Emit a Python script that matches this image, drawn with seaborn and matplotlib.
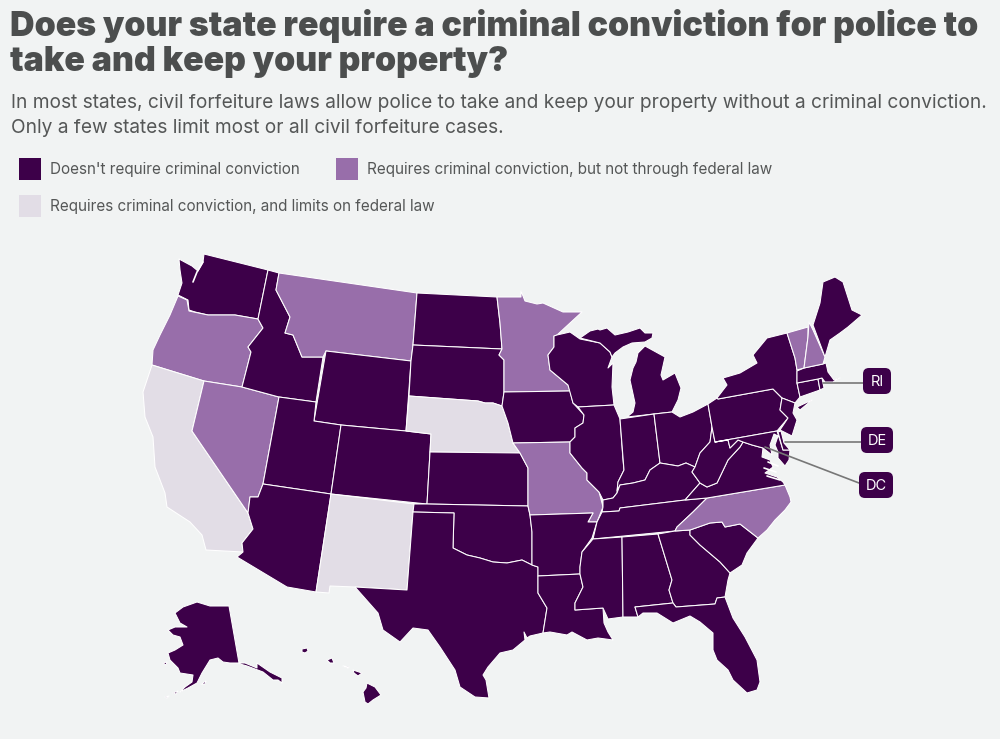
import matplotlib
matplotlib.use("Agg")
import matplotlib.pyplot as plt
from matplotlib.patches import FancyBboxPatch, Rectangle
import seaborn as sns

# Values
STATES = ["WA", "OR", "CA", "NV", "ID", "MT", "WY", "UT", "AZ", "CO", "NM", "ND", "SD", "NE", "KS",
          "OK", "TX", "MN", "IA", "MO", "AR", "LA", "WI", "IL", "MI", "MI2", "IN", "OH", "KY", "TN",
          "MS", "AL", "GA", "FL", "SC", "NC", "VA", "WV", "PA", "NY", "LI", "MD", "DE", "NJ", "CT",
          "RI", "MA", "VT", "NH", "ME", "AK", "AK2", "AK3", "AK4", "AK5", "AK6", "HI", "HI2", "HI3", "HI4", "HI5"]
CATEGORY = [0, 1, 2, 1, 0, 1, 0, 0, 0, 0, 2, 0, 0, 2, 0,
            0, 0, 1, 0, 1, 0, 0, 0, 0, 0, 0, 0, 0, 0, 0,
            0, 0, 0, 0, 0, 1, 0, 0, 0, 0, 0, 0, 0, 0, 0,
            0, 0, 1, 1, 0, 0, 0, 0, 0, 0, 0, 0, 0, 0, 0, 0]
LEGEND_LABELS = ["Doesn't require criminal conviction",
                 "Requires criminal conviction, but not through federal law",
                 "Requires criminal conviction, and limits on federal law"]
CALLOUTS = ["RI", "DE", "DC"]
TITLE = ["Does your state require a criminal conviction for police to", "take and keep your property?"]
SUBTITLE = ["In most states, civil forfeiture laws allow police to take and keep your property without a criminal conviction.",
            "Only a few states limit most or all civil forfeiture cases."]

# State outlines, traced in picture pixels
SHAPES = {
    "WA": [(179, 259), (192, 266), (198, 271), (203, 262), (204, 254), (268, 270), (258, 319), (235, 315), (222, 315), (208, 315), (195, 312), (189, 310), (188, 300), (178, 295), (182, 283), (180, 270)],
    "OR": [(178, 296), (187, 300), (189, 311), (208, 315), (235, 315), (258, 319), (263, 328), (248, 347), (251, 352), (242, 387), (204, 381), (152, 365), (153, 350), (160, 335), (170, 315)],
    "CA": [(152, 365), (204, 381), (192, 431), (248, 513), (253, 529), (242, 543), (243, 552), (206, 550), (202, 535), (190, 522), (167, 507), (165, 493), (155, 467), (153, 437), (145, 417), (143, 392)],
    "NV": [(204, 381), (242, 387), (279, 397), (263, 484), (258, 497), (250, 497), (248, 513), (192, 431)],
    "ID": [(268, 270), (279, 273), (276, 290), (290, 317), (285, 333), (293, 335), (302, 357), (323, 357), (316, 402), (279, 397), (242, 387), (251, 352), (248, 347), (263, 328), (258, 319)],
    "MT": [(279, 273), (417, 293), (413, 345), (411, 361), (326, 351), (323, 357), (302, 357), (293, 335), (285, 333), (290, 317), (276, 290)],
    "WY": [(326, 351), (411, 361), (406, 431), (341, 425), (314, 421)],
    "UT": [(279, 397), (316, 402), (314, 421), (341, 425), (331, 494), (263, 484)],
    "AZ": [(263, 484), (331, 494), (316, 592), (287, 587), (237, 557), (243, 552), (242, 543), (253, 529), (248, 513), (250, 497), (258, 497)],
    "CO": [(341, 425), (406, 431), (431, 434), (427, 504), (331, 494)],
    "NM": [(331, 494), (414, 504), (413, 512), (407, 590), (355, 587), (330, 586), (329, 593), (316, 592)],
    "ND": [(417, 293), (497, 297), (500, 323), (502, 349), (413, 345)],
    "SD": [(413, 345), (502, 349), (499, 355), (504, 360), (504, 392), (502, 406), (493, 403), (485, 403), (478, 401), (409, 396), (411, 361)],
    "NE": [(409, 396), (478, 401), (485, 403), (493, 403), (502, 406), (508, 423), (513, 443), (520, 453), (430, 452), (431, 434), (406, 431)],
    "KS": [(430, 452), (520, 453), (528, 468), (528, 506), (427, 504)],
    "OK": [(414, 504), (427, 504), (528, 506), (530, 515), (532, 532), (532, 565), (522, 560), (507, 563), (493, 562), (480, 558), (467, 555), (453, 548), (454, 513), (413, 512)],
    "TX": [(413, 512), (454, 513), (453, 548), (467, 555), (480, 558), (493, 562), (507, 563), (522, 560), (532, 565), (538, 567), (538, 593), (547, 608), (543, 633), (530, 636), (527, 638), (524, 632), (525, 640), (513, 650), (500, 653), (488, 667), (483, 675), (486, 680), (489, 698), (475, 697), (460, 687), (455, 670), (440, 647), (428, 630), (413, 628), (400, 642), (383, 630), (378, 613), (355, 587), (407, 590)],
    "MN": [(497, 297), (521, 297), (521, 291), (525, 301), (537, 304), (543, 303), (563, 312), (582, 312), (557, 335), (554, 336), (554, 347), (548, 355), (550, 370), (568, 385), (570, 391), (504, 392), (504, 360), (499, 355), (502, 349), (500, 323)],
    "IA": [(504, 392), (570, 391), (573, 403), (584, 415), (583, 423), (575, 428), (575, 437), (570, 442), (513, 443), (508, 423), (502, 406)],
    "MO": [(513, 443), (570, 442), (570, 453), (582, 468), (587, 473), (587, 480), (599, 492), (602, 503), (603, 507), (597, 522), (588, 522), (593, 513), (530, 515), (528, 506), (528, 468), (520, 453)],
    "AR": [(530, 515), (593, 513), (588, 522), (597, 522), (592, 538), (582, 552), (580, 567), (580, 574), (538, 576), (538, 567), (532, 565), (532, 532)],
    "LA": [(538, 576), (580, 574), (583, 587), (575, 603), (575, 610), (603, 608), (604, 623), (608, 632), (613, 640), (598, 638), (587, 640), (572, 632), (567, 635), (550, 632), (543, 633), (547, 608), (538, 593)],
    "WI": [(557, 335), (570, 332), (580, 339), (600, 343), (610, 352), (612, 357), (608, 368), (613, 363), (612, 387), (614, 405), (578, 407), (573, 403), (568, 385), (550, 370), (548, 355), (554, 347), (554, 336)],
    "IL": [(578, 407), (614, 405), (620, 419), (623, 460), (624, 470), (618, 482), (617, 493), (613, 498), (603, 500), (599, 492), (587, 480), (587, 473), (582, 468), (570, 453), (570, 442), (575, 437), (575, 428), (583, 423), (584, 415)],
    "MI": [(627, 417), (654, 414), (672, 412), (678, 400), (681, 388), (675, 373), (663, 380), (661, 375), (665, 357), (645, 346), (638, 353), (636, 362), (633, 368), (630, 380), (635, 403), (633, 412)],
    "MI2": [(580, 338), (590, 331), (598, 329), (600, 330), (607, 328), (615, 335), (628, 332), (640, 328), (645, 333), (653, 333), (652, 338), (645, 342), (632, 343), (623, 347), (615, 353), (612, 357), (610, 352), (600, 343)],
    "IN": [(620, 419), (654, 414), (660, 463), (650, 470), (645, 480), (633, 483), (620, 485), (617, 491), (618, 482), (624, 470)],
    "OH": [(654, 414), (672, 412), (680, 417), (693, 412), (708, 404), (712, 427), (710, 442), (700, 453), (695, 467), (686, 463), (678, 466), (660, 463)],
    "KY": [(660, 463), (678, 466), (686, 463), (695, 467), (692, 472), (700, 483), (685, 500), (620, 508), (619, 511), (602, 512), (603, 507), (603, 500), (613, 498), (617, 493), (620, 485), (633, 483), (645, 480), (650, 470)],
    "TN": [(602, 512), (619, 511), (620, 508), (685, 500), (707, 498), (693, 512), (677, 527), (675, 531), (593, 539), (597, 522)],
    "MS": [(593, 539), (622, 537), (623, 617), (608, 619), (603, 608), (575, 610), (575, 603), (583, 587), (580, 574), (580, 567), (582, 552)],
    "AL": [(622, 537), (658, 534), (672, 580), (669, 590), (673, 603), (635, 607), (638, 617), (630, 617), (623, 617)],
    "GA": [(658, 534), (675, 531), (690, 530), (690, 535), (700, 545), (720, 562), (730, 573), (728, 580), (725, 597), (717, 598), (715, 604), (676, 607), (673, 603), (669, 590), (672, 580)],
    "FL": [(635, 607), (673, 603), (676, 607), (715, 604), (717, 598), (725, 597), (733, 618), (745, 637), (757, 660), (760, 682), (757, 690), (747, 693), (733, 680), (728, 670), (717, 660), (713, 650), (713, 633), (700, 622), (690, 616), (673, 623), (657, 613), (643, 613), (638, 617)],
    "SC": [(690, 530), (710, 523), (722, 522), (725, 527), (740, 524), (758, 538), (747, 553), (742, 565), (730, 573), (720, 562), (700, 545), (690, 535)],
    "NC": [(707, 498), (785, 485), (790, 497), (791, 502), (785, 510), (775, 520), (767, 530), (758, 538), (740, 524), (725, 527), (722, 522), (710, 523), (690, 530), (675, 531), (677, 527), (693, 512)],
    "VA": [(685, 500), (700, 483), (707, 487), (717, 483), (728, 460), (740, 447), (743, 442), (752, 445), (763, 448), (762, 457), (770, 460), (773, 467), (765, 473), (777, 477), (783, 482), (785, 485), (707, 498)],
    "WV": [(712, 427), (715, 442), (728, 440), (730, 448), (738, 440), (743, 442), (740, 447), (728, 460), (717, 483), (707, 487), (700, 483), (692, 472), (695, 467), (700, 453), (710, 442)],
    "PA": [(708, 404), (717, 398), (718, 399), (773, 389), (782, 398), (780, 410), (788, 418), (777, 431), (715, 442), (712, 427)],
    "NY": [(717, 398), (727, 385), (723, 378), (740, 373), (757, 363), (753, 355), (767, 338), (787, 333), (795, 358), (797, 370), (797, 383), (800, 397), (795, 403), (782, 398), (773, 389), (718, 399)],
    "LI": [(797, 407), (812, 400), (800, 410)],
    "MD": [(715, 442), (777, 431), (783, 450), (790, 450), (789, 460), (785, 466), (778, 458), (778, 452), (775, 445), (778, 436), (774, 434), (770, 445), (772, 455), (763, 448), (752, 445), (743, 442), (738, 440), (730, 448), (728, 440)],
    "DE": [(778, 432), (781, 431), (784, 443), (790, 450), (783, 450)],
    "NJ": [(782, 398), (795, 403), (793, 413), (797, 420), (792, 436), (780, 430), (788, 418), (780, 410)],
    "CT": [(797, 383), (818, 379), (820, 390), (800, 397)],
    "RI": [(818, 379), (822, 378), (824, 388), (820, 390)],
    "MA": [(797, 371), (804, 368), (823, 364), (826, 363), (828, 372), (834, 380), (840, 378), (833, 382), (825, 382), (822, 378), (818, 379), (797, 383)],
    "VT": [(787, 333), (808, 327), (808, 337), (804, 368), (797, 370), (795, 358)],
    "NH": [(809, 322), (813, 330), (825, 357), (823, 364), (804, 368), (808, 337)],
    "ME": [(813, 325), (820, 303), (823, 282), (835, 277), (843, 282), (852, 310), (862, 315), (848, 327), (840, 333), (830, 340), (825, 357)],
    "AK": [(229, 606), (239, 663), (230, 663), (223, 662), (218, 658), (210, 660), (202, 673), (197, 683), (188, 688), (180, 692), (185, 687), (192, 682), (193, 675), (180, 673), (178, 668), (170, 660), (168, 653), (175, 650), (183, 645), (180, 637), (173, 635), (168, 630), (175, 627), (187, 627), (180, 623), (175, 613), (183, 607), (197, 602), (210, 606)],
    "AK2": [(239, 663), (245, 663), (257, 668), (257, 663), (270, 672), (282, 678), (282, 683), (278, 680), (273, 680), (263, 672), (255, 669), (247, 666), (240, 664)],
    "AK3": [(163, 663), (167, 662), (166, 665)],
    "AK4": [(165, 697), (169, 696), (167, 698)],
    "AK5": [(173, 693), (178, 691), (176, 694)],
    "AK6": [(201, 684), (206, 681), (205, 684)],
    "HI": [(367, 683), (375, 687), (381, 695), (373, 700), (368, 704), (365, 702), (363, 692), (366, 688)],
    "HI2": [(353, 670), (362, 673), (358, 676), (354, 673)],
    "HI3": [(327, 660), (332, 658), (334, 663), (330, 663)],
    "HI4": [(302, 649), (307, 648), (308, 651), (305, 653), (302, 652)],
    "HI5": [(343, 666), (349, 667), (348, 668)],
}

# Inlets that are cut out of the land, drawn as thin lines
INLETS = [[(203, 262), (197, 272), (193, 282)],
          [(768, 462), (778, 466)], [(764, 468), (776, 472)], [(767, 476), (780, 480)]]

# Callout line start, box and line end, in picture pixels
CALLOUT_LINES = [[(823, 383), (863, 383)], [(785, 442), (861, 442)], [(765, 447), (859, 483)]]
CALLOUT_BOXES = [(863, 368, 28, 26), (861, 427, 32, 26), (859, 472, 34, 26)]

BG = "#f1f3f3"
DARK = "#3d0049"
TEXT = "#555757"
PALETTE = sns.color_palette([DARK, "#986eaa", "#e2dde6"])

sns.set_theme(style="white", rc={"figure.facecolor": BG, "axes.facecolor": BG})
plt.rcParams["font.family"] = ["Inter", "DejaVu Sans"]

fig = plt.figure(figsize=(10, 7.39), dpi=100)
ax = fig.add_axes([0, 0, 1, 1])
ax.set_xlim(0, 1000)
ax.set_ylim(739, 0)
ax.axis("off")

# ---- map
for state, cat in zip(STATES, CATEGORY):
    ax.fill(*zip(*SHAPES[state]), facecolor=PALETTE[cat], edgecolor="white", linewidth=0.75, joinstyle="round", zorder=2)
for cut in INLETS:
    ax.plot(*zip(*cut), color="white", linewidth=1.2, zorder=2.5)

# ---- headings
for line, y in zip(TITLE, [36, 71]):
    ax.text(10, y, line, fontsize=24.42, fontweight=900, color="#4c4e4e", va="baseline", ha="left")
for line, y in zip(SUBTITLE, [108, 133]):
    ax.text(11, y, line, fontsize=13.78, color=TEXT, va="baseline", ha="left")

# ---- legend
legend_pos = [(19, 158), (336, 158), (19, 195)]
for (x, y), label, color in zip(legend_pos, LEGEND_LABELS, PALETTE):
    ax.add_patch(Rectangle((x, y), 22, 22, facecolor=color, edgecolor="none"))
    ax.text(x + 31, y + 11.5, label, fontsize=11, color=TEXT, va="center", ha="left")

# ---- callouts
for name, line, (x, y, w, h) in zip(CALLOUTS, CALLOUT_LINES, CALLOUT_BOXES):
    ax.plot(*zip(*line), color="#777777", linewidth=1.2, zorder=3)
    ax.add_patch(FancyBboxPatch((x + 5, y + 5), w - 10, h - 10, boxstyle="round,pad=5,rounding_size=6",
                                facecolor=DARK, edgecolor="none", zorder=4))
    ax.text(x + w / 2, y + h / 2 + 1, name, fontsize=10.5, color="white", ha="center", va="center", zorder=5)

plt.savefig("out.png", dpi=100, facecolor=BG)
